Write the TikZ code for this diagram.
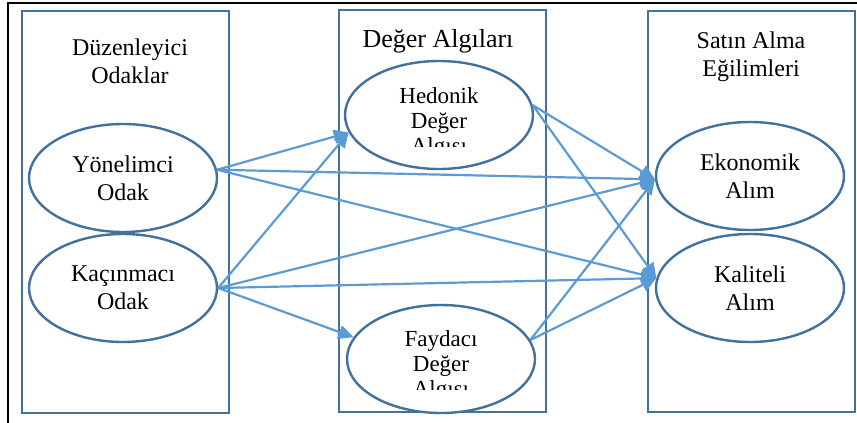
\documentclass[tikz,border=0pt]{standalone}
\usepackage{fontspec}
\setmainfont{Liberation Serif}
\usetikzlibrary{shapes.geometric}
\usetikzlibrary{arrows.meta}
\definecolor{boxblue}{HTML}{41719C}
\definecolor{arrowblue}{HTML}{5B9BD5}

\begin{document}
\begin{tikzpicture}[
			x=1pt, y=-1pt,
			groupbox/.style={draw=boxblue, line width=2.6pt},
			oval/.style={ellipse, draw=boxblue, line width=2.4pt, fill=white,
				minimum width=188pt, minimum height=108pt, align=center,
				font=\fontsize{24}{28}\selectfont},
			title/.style={align=center, font=\fontsize{24}{28}\selectfont},
			link/.style={draw=arrowblue, line width=2.2pt,
				-{Triangle[length=15pt,width=14pt]}},
			]
			\useasboundingbox (0,0) rectangle (857,423);
			% outer frame (only top and left visible)
			\draw[line width=2.2pt] (8,423) -- (8,3) -- (857,3);
			% the three groups
			\draw[groupbox] (22,11) rectangle (229,413);
			\draw[groupbox] (339,10) rectangle (546,412);
			\draw[groupbox] (648,11) rectangle (855,412);
			\begin{scope}
				\clip (22,20) rectangle (229,84);
				\node[title] (duz) at (130,61) {Düzenleyici\\Odaklar};
			\end{scope}
			\node[title, font=\fontsize{26}{28}\selectfont] (deg) at (438,41) {Değer Algıları};
			\node[title] (sat) at (751,57) {Satın Alma\\Eğilimleri};
			% ellipses
			\node[oval] (yon) at (123,178) {Yönelimci\\Odak};
			\node[oval] (kac) at (123,288) {Kaçınmacı\\Odak};
			\node[oval] (eko) at (750,176) {Ekonomik\\Alım};
			\node[oval] (kal) at (750,288) {Kaliteli\\Alım};
			\node[oval] (hed) at (439,115) {};
			\node[oval] (fay) at (441,359) {};
			\begin{scope}
				\clip (350,80) rectangle (530,146);
				\node[align=center, font=\fontsize{23}{25}\selectfont] at (439,123) {Hedonik\\Değer\\Algısı};
			\end{scope}
			\begin{scope}
				\clip (352,320) rectangle (530,389);
				\node[align=center, font=\fontsize{23}{25}\selectfont] at (441,366) {Faydacı\\Değer\\Algısı};
			\end{scope}
			% connectors
			\draw[link] (yon.5) -- (hed.191);
			\draw[link] (yon.5) -- (eko.182);
			\draw[link] (yon.5) -- (kal.174);
			\draw[link] (kac.0) -- (hed.191);
			\draw[link] (kac.0) -- (eko.182);
			\draw[link] (kac.0) -- (kal.174);
			\draw[link] (kac.0) -- (fay.166);
			\draw[link] (hed.6) -- (eko.182);
			\draw[link] (hed.6) -- (kal.174);
			\draw[link] (fay.12) -- (eko.182);
			\draw[link] (fay.12) -- (kal.174);
		\end{tikzpicture}
\end{document}
